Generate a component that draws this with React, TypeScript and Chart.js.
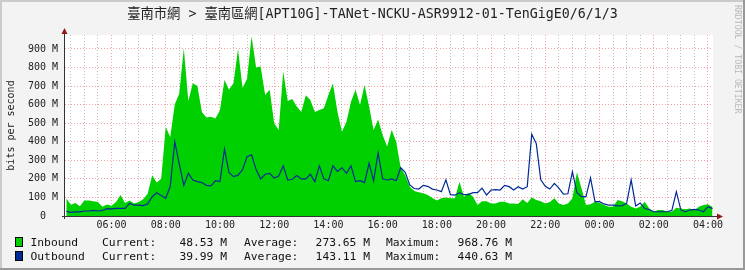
import { useEffect, useRef } from 'react';
import { Chart, registerables } from 'chart.js';

Chart.register(...registerables);

const TITLE = '臺南市網 > 臺南區網[APT10G]-TANet-NCKU-ASR9912-01-TenGigE0/6/1/3';
const Y_TITLE = 'bits per second';
const WATERMARK = 'RRDTOOL / TOBI OETIKER';

// time axis in hours (24+ = next day), samples every 10 minutes from 04:20
const START_HOUR = 4 + 20 / 60;
const STEP_HOURS = 10 / 60;
const X_MIN = 4.285;
const X_MAX = 28.185;
const Y_MAX = 975;

// values in Mbit/s
const inbound = [
  95, 60, 70, 52, 83, 83, 80, 75, 50, 62,
  55, 75, 113, 70, 83, 68, 75, 90, 120, 220,
  180, 200, 480, 425, 600, 660, 903, 620, 715, 700,
  560, 530, 535, 525, 570, 733, 680, 715, 900, 690,
  740, 968.76, 800, 805, 652, 680, 500, 463, 780, 620,
  630, 590, 560, 650, 625, 560, 571, 580, 652, 715,
  562, 454, 508, 616, 680, 598, 706, 590, 463, 520,
  436, 374, 463, 400, 260, 220, 158, 135, 128, 122,
  113, 97, 83, 95, 100, 95, 95, 185, 104, 125,
  104, 59, 80, 80, 68, 68, 77, 77, 68, 68,
  65, 90, 70, 100, 86, 80, 68, 75, 95, 68,
  59, 68, 95, 235, 150, 59, 63, 77, 72, 59,
  50, 50, 86, 80, 68, 50, 41, 50, 77, 40,
  23, 32, 32, 23, 23, 45, 41, 36, 41, 32,
  50, 59, 63, 48.53,
];

const outbound = [
  25, 20, 22, 22, 27, 27, 30, 27, 30, 40,
  38, 41, 41, 41, 68, 59, 59, 56, 65, 104,
  125, 110, 95, 160, 400, 280, 165, 230, 194, 185,
  180, 165, 162, 190, 185, 360, 235, 212, 220, 250,
  320, 330, 250, 200, 225, 230, 205, 215, 270, 194,
  198, 218, 200, 200, 225, 185, 270, 200, 190, 270,
  240, 260, 230, 270, 185, 190, 180, 284, 190, 340,
  200, 194, 200, 190, 260, 235, 167, 148, 145, 165,
  160, 145, 140, 131, 195, 115, 113, 125, 115, 115,
  126, 126, 150, 113, 140, 142, 140, 165, 158, 140,
  158, 145, 158, 440.63, 390, 195, 160, 145, 176, 150,
  118, 120, 239, 125, 104, 104, 205, 77, 77, 65,
  59, 59, 55, 56, 68, 195, 54, 70, 40, 35,
  23, 23, 23, 23, 30, 131, 32, 23, 32, 36,
  32, 23, 50, 39.99,
];

const seriesNames = ['Inbound', 'Outbound'];
const seriesColors = ['#00CF00', '#002A97'];
const statLabels = ['Current:', 'Average:', 'Maximum:'];
const inboundStats = ['48.53 M', '273.65 M', '968.76 M'];
const outboundStats = ['39.99 M', '143.11 M', '440.63 M'];

const xTickHours: number[] = [];
for (let h = 4.5; h <= 28; h += 0.5) xTickHours.push(h);
const yTickValues: number[] = [];
for (let v = 0; v <= 950; v += 50) yTickValues.push(v);

const MONO = '"DejaVu Sans Mono", "Noto Sans CJK TC", monospace';
const MAJOR = 'rgba(235,90,90,0.55)';
const MINOR = 'rgba(150,150,150,0.6)';

const toPoints = (arr: number[]) => arr.map((v, i) => ({ x: START_HOUR + i * STEP_HOURS, y: v }));

const rrdPlugin = {
  id: 'rrdDecor',
  beforeDraw(chart: any) {
    const { ctx, width, height, chartArea: a } = chart;
    ctx.save();
    ctx.fillStyle = '#f3f3f3';
    ctx.fillRect(0, 0, width, height);
    ctx.fillStyle = '#cbcbcb';
    ctx.fillRect(0, 0, width, 2);
    ctx.fillRect(0, 0, 2, height);
    ctx.fillStyle = '#999999';
    ctx.fillRect(0, height - 2, width, 2);
    ctx.fillRect(width - 2, 0, 2, height);
    ctx.fillStyle = '#ffffff';
    ctx.fillRect(a.left, a.top, a.right - a.left, a.bottom - a.top);
    ctx.restore();
  },
  afterDatasetsDraw(chart: any) {
    const { ctx, chartArea: a } = chart;
    const y0 = Math.round(chart.scales.y.getPixelForValue(0));
    ctx.save();
    ctx.fillStyle = '#333333';
    ctx.fillRect(a.left - 1, a.top - 3, 1, a.bottom - a.top + 6);
    ctx.fillRect(a.left - 3, y0, a.right - a.left + 8, 1);
    ctx.fillStyle = '#8f1a1a';
    ctx.beginPath();
    ctx.moveTo(a.left - 0.5, a.top - 7);
    ctx.lineTo(a.left - 3.5, a.top - 1);
    ctx.lineTo(a.left + 2.5, a.top - 1);
    ctx.closePath();
    ctx.fill();
    ctx.beginPath();
    ctx.moveTo(a.right + 10, y0 + 0.5);
    ctx.lineTo(a.right + 4, y0 - 2.5);
    ctx.lineTo(a.right + 4, y0 + 3.5);
    ctx.closePath();
    ctx.fill();
    ctx.restore();
  },
  afterDraw(chart: any) {
    const { ctx, width } = chart;
    ctx.save();
    // title
    ctx.fillStyle = '#222222';
    ctx.font = `13.3px ${MONO}`;
    ctx.textAlign = 'center';
    ctx.textBaseline = 'middle';
    ctx.fillText(TITLE, width / 2, 15);
    // watermark
    ctx.save();
    ctx.translate(737, 5);
    ctx.rotate(Math.PI / 2);
    ctx.font = `8.2px ${MONO}`;
    ctx.fillStyle = '#b8b8b8';
    ctx.textAlign = 'left';
    ctx.textBaseline = 'middle';
    ctx.fillText(WATERMARK, 0, 0);
    ctx.restore();
    // legend
    const rows = [
      { name: seriesNames[0], color: seriesColors[0], stats: inboundStats, base: 245.8 },
      { name: seriesNames[1], color: seriesColors[1], stats: outboundStats, base: 260 },
    ];
    const labelX = [102, 244, 386];
    const valueRight = [227, 370, 512];
    ctx.font = `11.3px ${MONO}`;
    ctx.textBaseline = 'alphabetic';
    rows.forEach((r) => {
      const top = Math.round(r.base - 9);
      ctx.fillStyle = r.color;
      ctx.fillRect(15, top, 8, 10);
      ctx.strokeStyle = '#000000';
      ctx.lineWidth = 1;
      ctx.strokeRect(15.5, top + 0.5, 7, 9);
      ctx.fillStyle = '#111111';
      ctx.textAlign = 'left';
      ctx.fillText(r.name, 30.5, r.base);
      statLabels.forEach((lab, k) => {
        ctx.textAlign = 'left';
        ctx.fillText(lab, labelX[k], r.base);
        ctx.textAlign = 'right';
        ctx.fillText(r.stats[k], valueRight[k], r.base);
      });
    });
    ctx.restore();
  },
};

const fmtHour = (h: number) => {
  const hh = ((Math.round(h) % 24) + 24) % 24;
  return `${hh < 10 ? '0' : ''}${hh}:00`;
};

export default function App() {
  const ref = useRef<HTMLCanvasElement | null>(null);
  useEffect(() => {
    if (!ref.current) return;
    const chart = new Chart(ref.current, {
      type: 'line',
      data: {
        datasets: [
          {
            label: seriesNames[0],
            data: toPoints(inbound),
            backgroundColor: seriesColors[0],
            borderColor: 'rgba(0,0,0,0)',
            borderWidth: 0,
            fill: 'origin',
            pointRadius: 0,
            tension: 0,
            order: 2,
          },
          {
            label: seriesNames[1],
            data: toPoints(outbound),
            borderColor: seriesColors[1],
            borderWidth: 1.2,
            fill: false,
            pointRadius: 0,
            tension: 0,
            order: 1,
          },
        ],
      },
      plugins: [rrdPlugin],
      options: {
        animation: false,
        responsive: false,
        devicePixelRatio: 1,
        events: [],
        layout: { padding: { top: 35, right: 32, left: 0, bottom: 0 } },
        plugins: { legend: { display: false }, title: { display: false }, tooltip: { enabled: false } },
        scales: {
          x: {
            type: 'linear',
            min: X_MIN,
            max: X_MAX,
            afterBuildTicks: (s: any) => {
              s.ticks = xTickHours.map((v) => ({ value: v }));
            },
            afterFit: (s: any) => {
              s.height = 54;
            },
            ticks: {
              autoSkip: false,
              maxRotation: 0,
              minRotation: 0,
              padding: 3,
              color: '#222222',
              font: { family: MONO, size: 10 },
              callback: (v: any) => (Number(v) % 2 === 0 ? fmtHour(Number(v)) : ''),
            },
            grid: {
              drawTicks: false,
              lineWidth: 1,
              color: (c: any) => (c.tick && c.tick.value % 2 === 0 ? MAJOR : MINOR),
            },
            border: { display: false, dash: [1, 2] },
          },
          y: {
            type: 'linear',
            min: 0,
            max: Y_MAX,
            afterBuildTicks: (s: any) => {
              s.ticks = yTickValues.map((v) => ({ value: v }));
            },
            afterFit: (s: any) => {
              s.width = 65;
            },
            title: {
              display: true,
              text: Y_TITLE,
              color: '#222222',
              font: { family: MONO, size: 10 },
              padding: { top: 5, bottom: 0 },
            },
            ticks: {
              padding: 7,
              color: '#222222',
              font: { family: MONO, size: 10 },
              callback: (v: any) => {
                const n = Number(v);
                if (n % 100 !== 0) return '';
                return n === 0 ? '0  ' : `${n} M`;
              },
            },
            grid: {
              drawTicks: false,
              lineWidth: 1,
              color: (c: any) => (c.tick && c.tick.value % 100 === 0 ? MAJOR : MINOR),
            },
            border: { display: false, dash: [1, 2] },
          },
        },
      },
    } as any);
    return () => chart.destroy();
  }, []);
  return (
    <div style={{ position: 'absolute', left: 0, top: 0, width: 745, height: 270 }}>
      <canvas ref={ref} width={745} height={270} style={{ display: 'block', width: 745, height: 270 }} />
    </div>
  );
}
